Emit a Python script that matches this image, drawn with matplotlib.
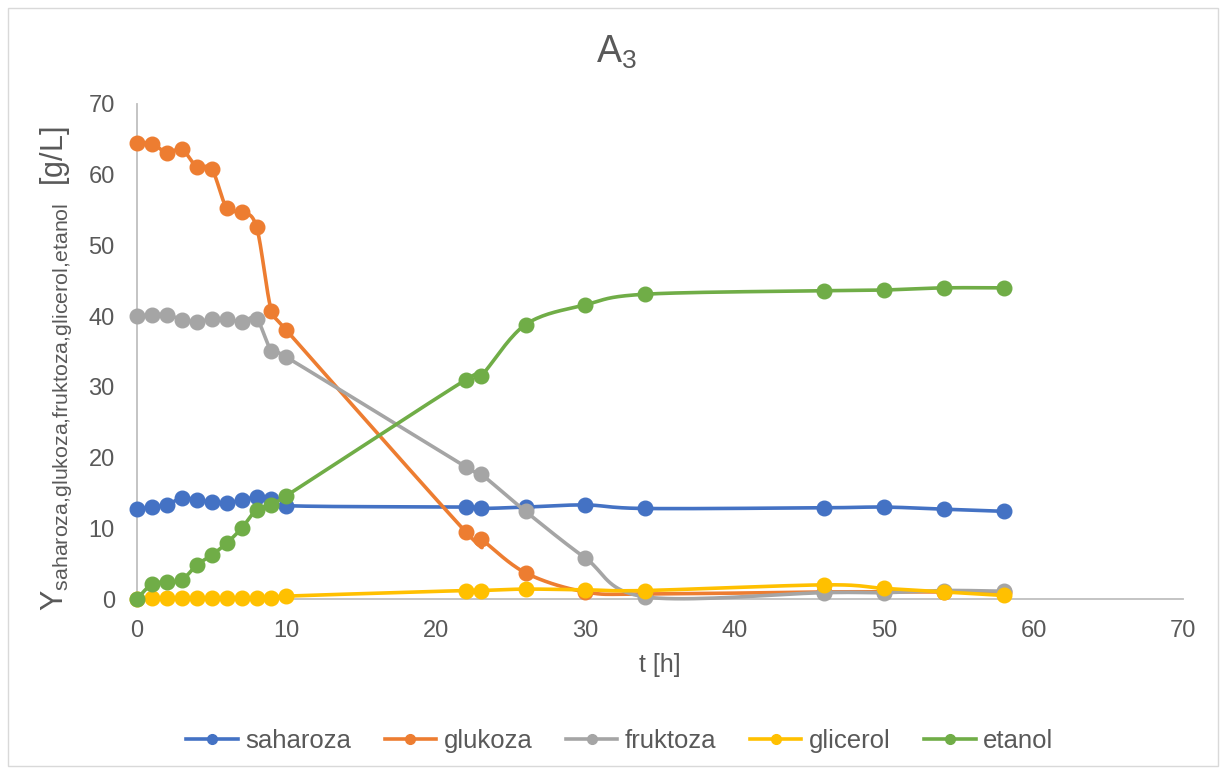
import numpy as np
import matplotlib
matplotlib.use('Agg')
import matplotlib.pyplot as plt

plt.rcParams['font.family'] = ['Liberation Sans', 'DejaVu Sans']
plt.rcParams['mathtext.fontset'] = 'custom'
plt.rcParams['mathtext.rm'] = 'Liberation Sans'

t = [0, 1, 2, 3, 4, 5, 6, 7, 8, 9, 10, 22, 23, 26, 30, 34, 46, 50, 54, 58]

saharoza = [12.7, 13.0, 13.3, 14.3, 14.0, 13.7, 13.6, 14.0, 14.4, 14.2, 13.2,
            13.0, 12.8, 13.0, 13.3, 12.8, 12.9, 13.0, 12.7, 12.4]
glukoza = [64.5, 64.4, 63.1, 63.6, 61.1, 60.8, 55.3, 54.7, 52.6, 40.7, 38.0,
           9.5, 8.5, 3.7, 1.0, 0.7, 1.0, 1.0, 1.0, 1.0]
fruktoza = [40.0, 40.2, 40.2, 39.5, 39.2, 39.6, 39.6, 39.2, 39.6, 35.1, 34.2,
            18.7, 17.7, 12.4, 5.8, 0.3, 0.9, 0.9, 1.2, 1.1]
glicerol = [0.0, 0.1, 0.1, 0.1, 0.1, 0.1, 0.1, 0.1, 0.1, 0.1, 0.4,
            1.2, 1.2, 1.4, 1.3, 1.2, 2.0, 1.5, 1.0, 0.5]
etanol = [0.0, 2.1, 2.4, 2.7, 4.8, 6.2, 7.9, 10.0, 12.6, 13.3, 14.6,
          31.0, 31.5, 38.8, 41.6, 43.1, 43.6, 43.7, 44.0, 44.0]

names = ['saharoza', 'glukoza', 'fruktoza', 'glicerol', 'etanol']
series = [saharoza, glukoza, fruktoza, glicerol, etanol]
colors = ['#4472C4', '#ED7D31', '#A5A5A5', '#FFC000', '#70AD47']
grey = '#595959'


def smooth(x, y, n=20):
    # Excel-like smoothed line (bezier through the points)
    x = np.asarray(x, float)
    y = np.asarray(y, float)
    xs, ys = [], []
    for i in range(len(x) - 1):
        p0 = (x[i - 1], y[i - 1]) if i > 0 else (x[i], y[i])
        p1 = (x[i], y[i])
        p2 = (x[i + 1], y[i + 1])
        p3 = (x[i + 2], y[i + 2]) if i + 2 < len(x) else (x[i + 1], y[i + 1])
        c1 = (p1[0] + (p2[0] - p0[0]) / 6, p1[1] + (p2[1] - p0[1]) / 6)
        c2 = (p2[0] - (p3[0] - p1[0]) / 6, p2[1] - (p3[1] - p1[1]) / 6)
        s = np.linspace(0, 1, n, endpoint=False)
        for a, b in ((0, xs), (1, ys)):
            b.extend((1 - s) ** 3 * p1[a] + 3 * (1 - s) ** 2 * s * c1[a]
                     + 3 * (1 - s) * s ** 2 * c2[a] + s ** 3 * p2[a])
    xs.append(x[-1])
    ys.append(y[-1])
    return xs, ys


W, H = 1226, 774
fig = plt.figure(figsize=(W / 100, H / 100), dpi=100)
ax = fig.add_axes([137 / W, 1 - 599 / H, (1183 - 137) / W, (599 - 104) / H])

for name, vals, c in zip(names, series, colors):
    sx, sy = smooth(t, vals)
    ax.plot(sx, sy, color=c, lw=2.6, solid_capstyle='round', clip_on=False)
    ax.plot(t, vals, 'o', color=c, ms=10.5, clip_on=False)
    ax.plot([], [], '-o', color=c, lw=2.6, ms=7, label=name)

ax.set_xlim(0, 70)
ax.set_ylim(0, 70)
ax.set_xticks(range(0, 71, 10))
ax.set_yticks(range(0, 71, 10))
for s in ['top', 'right']:
    ax.spines[s].set_visible(False)
for s in ['left', 'bottom']:
    ax.spines[s].set_color('#BFBFBF')
    ax.spines[s].set_linewidth(1.3)
    ax.spines[s].set_zorder(0.5)
ax.tick_params(length=0, labelsize=17, colors=grey)
ax.tick_params(axis='x', pad=15)
ax.tick_params(axis='y', pad=16)

fig.text(616 / W, 1 - 63 / H, r'$\mathregular{A_3}$', fontsize=27, color=grey,
         ha='center', va='baseline')
fig.text(660 / W, 1 - 665 / H, 't [h]', fontsize=18, color=grey,
         ha='center', va='center')
fig.text(56 / W, 1 - 369 / H,
         r'$\mathregular{Y_{saharoza{,}glukoza{,}fruktoza{,}glicerol{,}etanol}}$  [g/L]',
         fontsize=22, color=grey, rotation=90, ha='center', va='center')

ax.legend(loc='center', bbox_to_anchor=(620 / W, 1 - 741 / H), bbox_transform=fig.transFigure,
          ncol=5, frameon=False, fontsize=18.5, labelcolor=grey,
          handlelength=2.0, columnspacing=1.3, handletextpad=0.3)

fig.patches.append(plt.Rectangle((8 / W, 8 / H), 1210 / W, 758 / H,
                                 transform=fig.transFigure, fill=False,
                                 edgecolor='#D9D9D9', lw=1))

fig.savefig('out.png', dpi=100)
